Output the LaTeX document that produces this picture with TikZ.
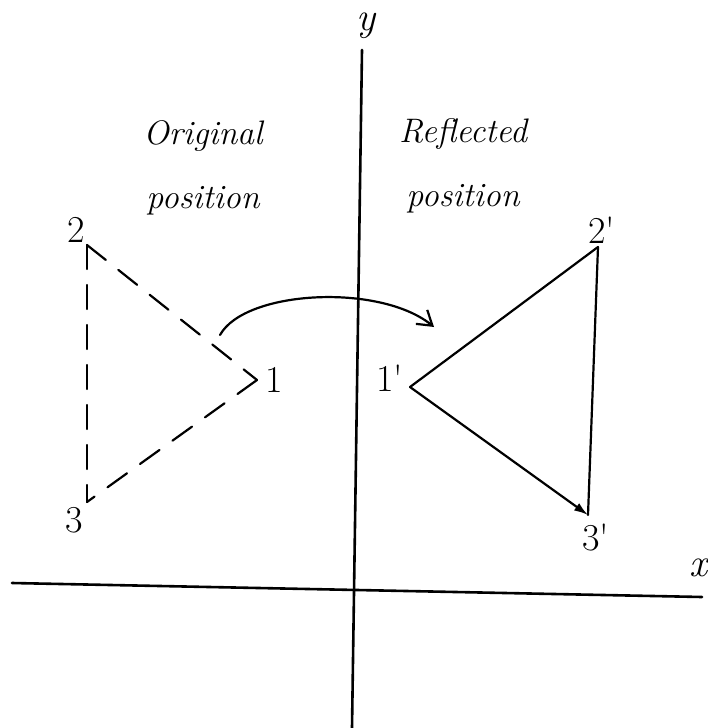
\documentclass[tikz,border=0pt]{standalone}
\usepackage{tikz}
\usetikzlibrary{positioning,arrows.meta}
\tikzset{
  axisline/.style={line width=2.6pt,line cap=round},
  edgeline/.style={line width=2.2pt,line cap=round},
  dashedge/.style={edgeline,dash pattern=on 24pt off 16pt},
  ptlabel/.style={font=\fontsize{38}{40}\selectfont,inner sep=1pt},
  axlabel/.style={font=\fontsize{40}{42}\selectfont\itshape,inner sep=1pt},
  captext/.style={font=\fontsize{34}{64}\selectfont\itshape,align=center}
}

\begin{document}
\begin{tikzpicture}[x=1pt,y=-1pt,>=Latex]
\useasboundingbox (0,0) rectangle (708,728);
% axes
\coordinate (ytop) at (362,50);
\coordinate (ybot) at (352,728);
\coordinate (xleft) at (12,583);
\coordinate (xright) at (702,597);
\draw[axisline] (ybot) -- (ytop);
\draw[axisline] (xleft) -- (xright);
\node[axlabel] (ylab) at (366,26) {y};
\node[axlabel] (xlab) at (698,568) {x};
% vertices
\foreach \name/\x/\y in {p1/257/380, p2/87/245, p3/87/502, q1/410/387, q2/598/247, q3/588/515}{
  \coordinate (\name) at (\x,\y);}
% labels
\node[ptlabel] (l1) at (274,380) {1};
\node[ptlabel] (l2) at (76,230) {2};
\node[ptlabel] (l3) at (74,520) {3};
\node[ptlabel] (m1) at (390,378) {1\textquotesingle};
\node[ptlabel] (m2) at (602,230) {2\textquotesingle};
\node[ptlabel] (m3) at (596,538) {3\textquotesingle};
% original triangle
\draw[dashedge] (p2) -- (p1);
\draw[dashedge] (p1) -- (p3);
\draw[dashedge] (p2) -- (p3);
% reflected triangle
\draw[edgeline] (q1) -- (q2);
\draw[edgeline] (q2) -- (q3);
\draw[edgeline,-{Latex[length=14pt,width=9pt]}] (q1) -- (q3);
% captions
\node[captext] (orig) at (203,168) {Original\\position};
\node[captext] (refl) at (463,166) {Reflected\\position};
% reflection arrow
\coordinate (arrs) at (220,335);
\coordinate (arre) at (434,327);
\draw[edgeline,-{Straight Barb[length=14pt,width=18pt]}] (arrs) .. controls (245,290) and (380,283) .. (arre);
\end{tikzpicture}
\end{document}
